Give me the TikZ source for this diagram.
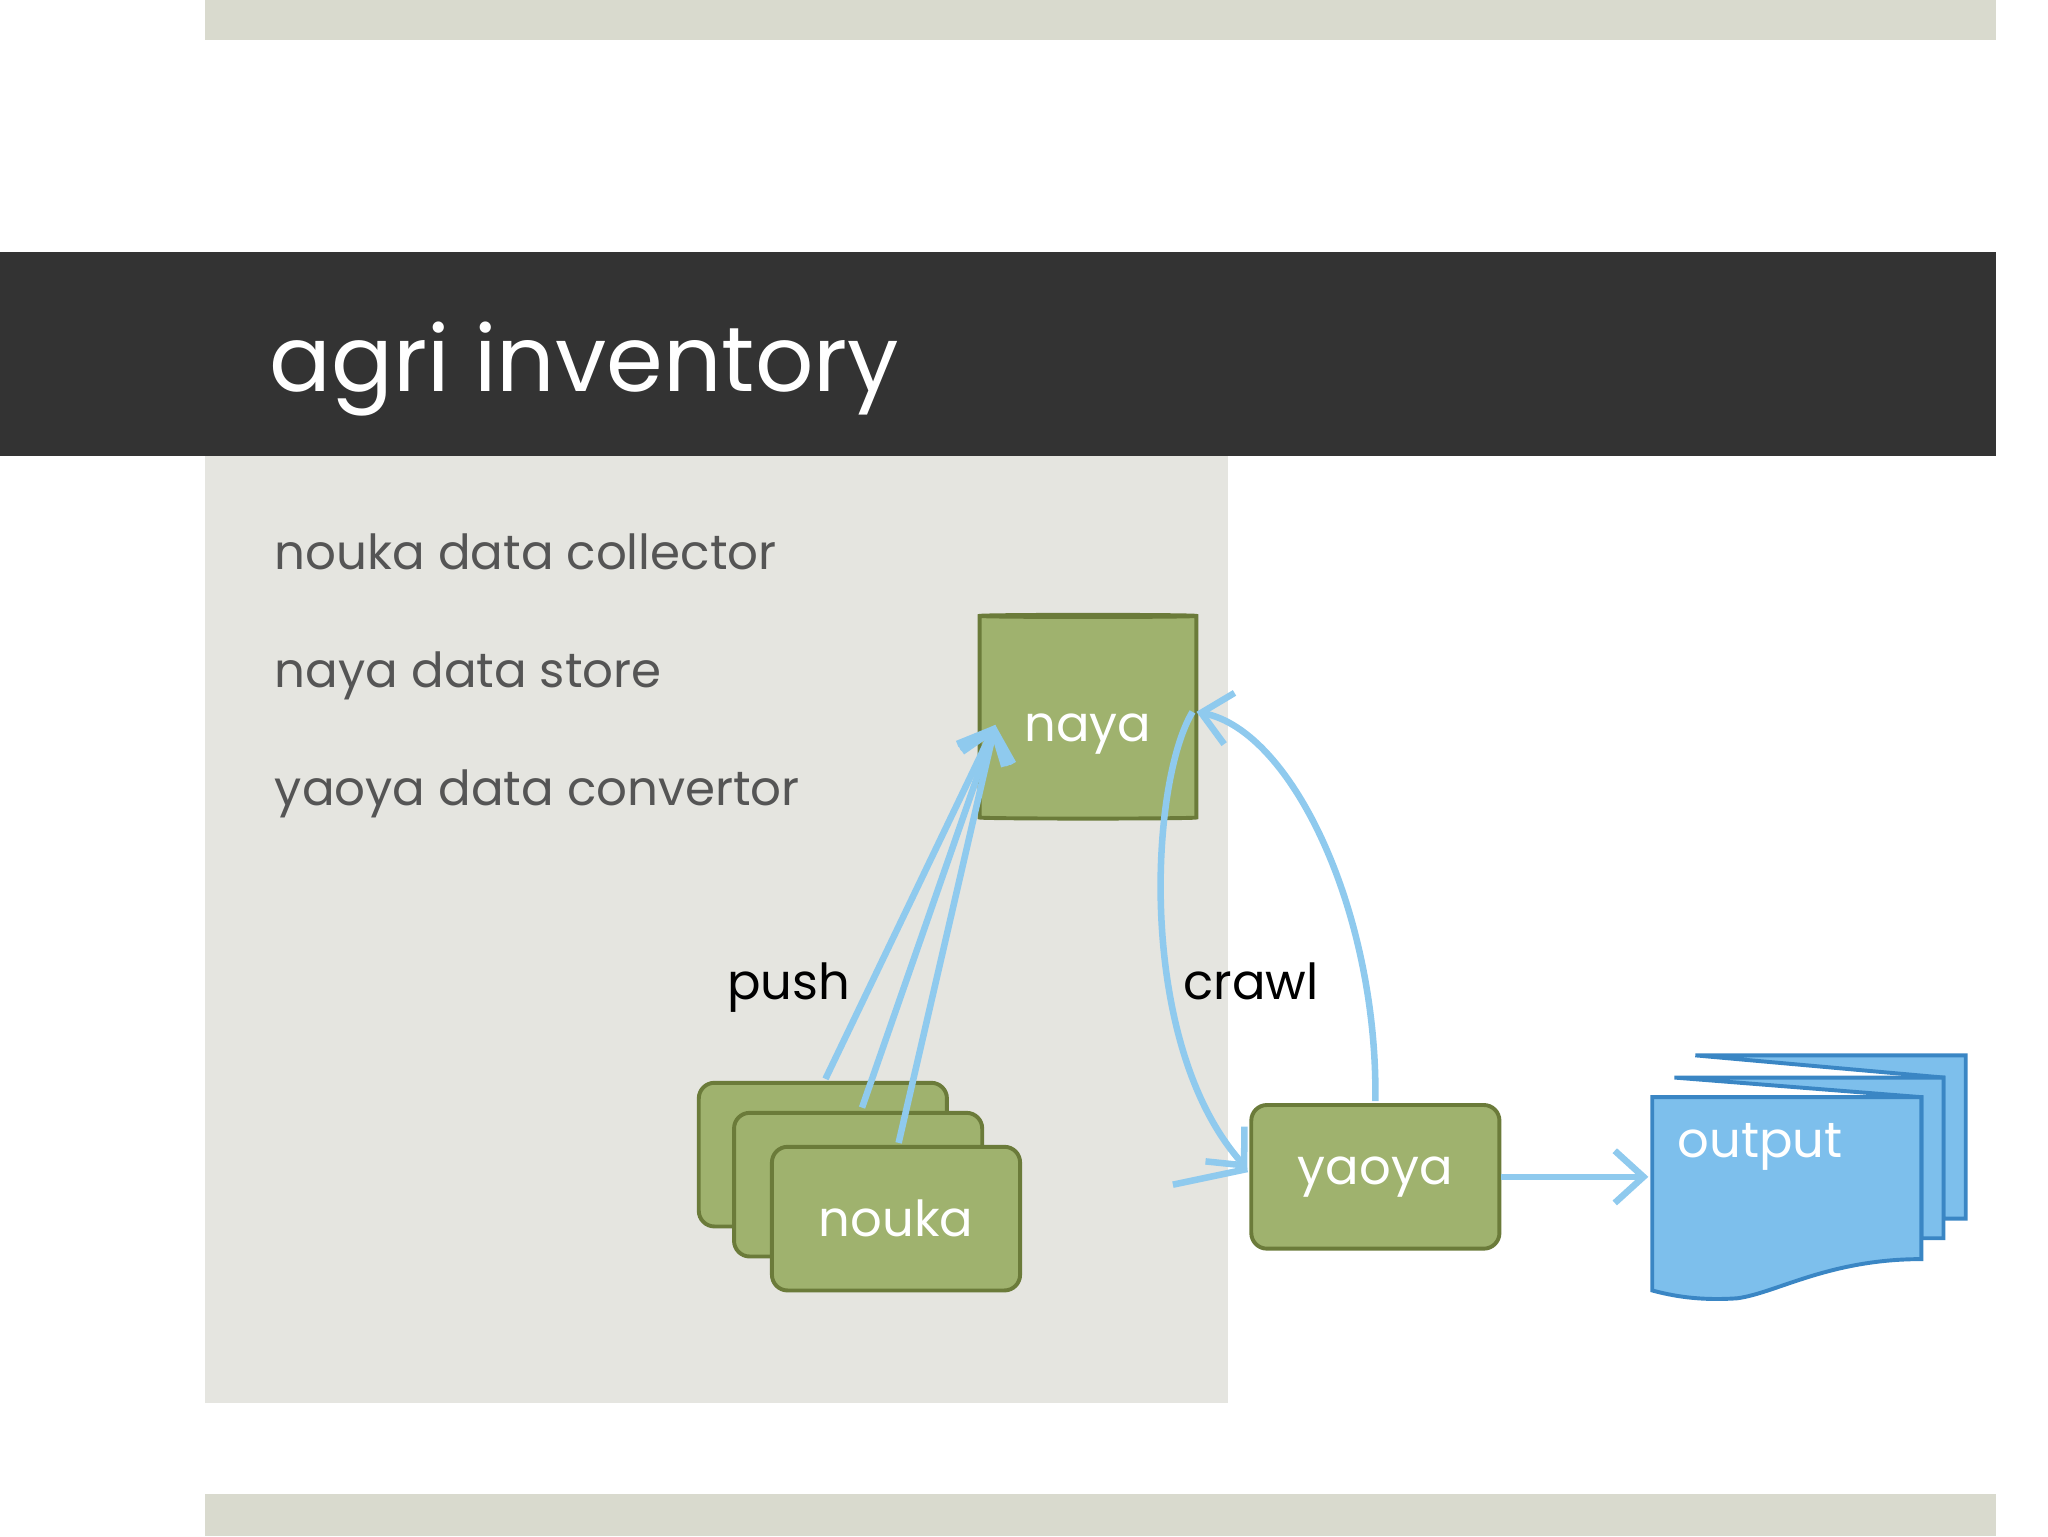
\documentclass[tikz,border=0pt]{standalone}
\usepackage{fontspec}
\setmainfont{Poppins}
\usetikzlibrary{shapes.geometric,arrows.meta}
\definecolor{band}{HTML}{D9DACE}
\definecolor{dark}{HTML}{333333}
\definecolor{panel}{HTML}{E5E5E0}
\definecolor{gfill}{HTML}{9FB26E}
\definecolor{gdraw}{HTML}{6B7B3A}
\definecolor{gtop}{HTML}{C9D3A9}
\definecolor{bfill}{HTML}{7DBFEC}
\definecolor{bdraw}{HTML}{3A86C4}
\definecolor{arr}{HTML}{8FCAEE}
\definecolor{txt}{HTML}{555555}
\tikzset{
 gbox/.style={draw=gdraw,fill=gfill,line width=3pt,rounded corners=12pt,minimum width=190pt,minimum height=110pt,text=white,font=\fontsize{38}{44}\selectfont},
 doc/.style={draw=bdraw,fill=bfill,line width=3pt},
 flow/.style={draw=arr,line width=5pt,-{Straight Barb[length=22pt,width=40pt,line width=5pt]}},
 item/.style={anchor=base west,text=txt,font=\fontsize{37}{44}\selectfont},
 lbl/.style={anchor=base,font=\fontsize{38}{44}\selectfont}
}
\begin{document}
\begin{tikzpicture}[x=1pt,y=-1pt]
\useasboundingbox (0,0) rectangle (1568,1176);
\fill[band] (157,0) rectangle (1528,31);
\fill[band] (157,1144) rectangle (1528,1176);
\fill[dark] (0,193) rectangle (1528,349);
\fill[panel] (157,349) rectangle (940,1074);
\node[anchor=base west,text=white,font=\fontsize{70}{80}\selectfont] (title) at (203,300) {agri inventory};
\node[item] (t1) at (207,436) {nouka data collector};
\node[item] (t2) at (207,526) {naya data store};
\node[item] (t3) at (207,617) {yaoya data convertor};
% naya cylinder
\node[shape=cylinder,shape border rotate=90,aspect=0.25,draw=gdraw,line width=3pt,cylinder uses custom fill,cylinder body fill=gfill,cylinder end fill=gtop,minimum width=166pt,minimum height=156pt] (naya) at (833,550) {};
\node[text=white,font=\fontsize{38}{44}\selectfont] (nayal) at (833,562) {naya};
% nouka stack
\node[gbox] (n1) at (630,884) {};
\node[gbox] (n2) at (657,907) {};
\node[gbox] (n3) at (686,933) {nouka};
% yaoya
\node[gbox] (yaoya) at (1053,901) {yaoya};
% output docs
\draw[doc] (1298,808) -- (1505,808) -- (1505,933) -- (1488,933) -- (1488,825) -- cycle;
\draw[doc] (1282,825) -- (1488,825) -- (1488,948) -- (1471,948) -- (1471,840) -- cycle;
\draw[doc] (1265,840) -- (1471,840) -- (1471,964) .. controls (1400,964) and (1360,990) .. (1330,994) .. controls (1300,996) and (1280,992) .. (1265,988) -- cycle;
\node[anchor=base west,text=white,font=\fontsize{38}{44}\selectfont] (output) at (1281,886) {output};
\coordinate (outin) at (1262,901);
% arrows
\coordinate (p1) at (632,826);
\coordinate (p2) at (660,848);
\coordinate (p3) at (688,875);
\coordinate (ph) at (762,555);
\draw[flow] (p1) -- (ph);
\draw[flow] (p2) -- (ph);
\draw[flow] (p3) -- (ph);
\coordinate (nr) at (913,545);
\coordinate (yin) at (955,895);
\draw[flow] (nr) .. controls (880,600) and (870,800) .. (yin);
\draw[draw=arr,line width=5pt] (yin) -- (898,907);
\draw[flow] (1053,843) .. controls (1055,700) and (990,560) .. (916,545);
\draw[flow] (yaoya.east) -- (outin);
\node[lbl] (push) at (604,765) {push};
\node[lbl] (crawl) at (958,765) {crawl};
\end{tikzpicture}
\end{document}
